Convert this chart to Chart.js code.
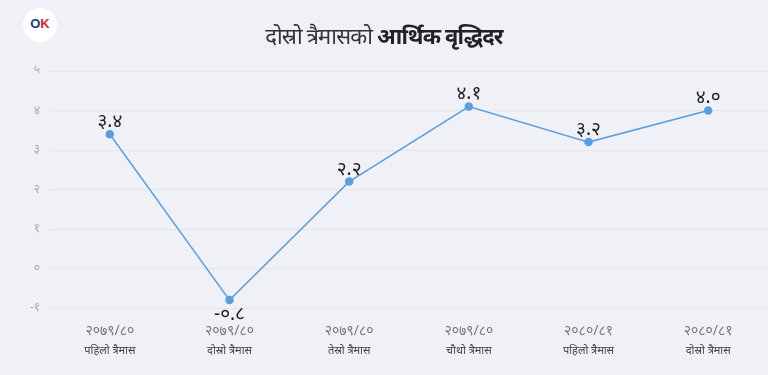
<!DOCTYPE html>
<html><head><meta charset="utf-8">
<script src="https://cdn.jsdelivr.net/npm/chart.js@4"></script>
<style>
html,body{margin:0;padding:0;background:#f0f1f6;}
#wrap{position:relative;width:768px;height:375px;overflow:hidden;}
#title{position:absolute;left:0;top:20px;width:768px;text-align:center;font-family:"Noto Sans",sans-serif;font-size:22px;color:#333;letter-spacing:-0.8px;}
#title b{font-weight:700;color:#222;}
#logo{position:absolute;left:23px;top:8px;width:34px;height:34px;border-radius:50%;background:#fff;font-family:"Liberation Sans",sans-serif;font-weight:900;font-size:13px;line-height:32px;text-align:center;}
#logo .o{color:#1a3d8f}#logo .k{color:#e0262b}
canvas{position:absolute;left:0;top:0;}
</style></head><body>
<div id="wrap">
<canvas id="c" width="768" height="375"></canvas>
<div id="logo"><span class="o">O</span><span class="k">K</span></div>
<div id="title">दोस्रो त्रैमासको <b>आर्थिक वृद्धिदर</b></div>
</div>
<script>
const years = ['२०७९/८०','२०७९/८०','२०७९/८०','२०७९/८०','२०८०/८१','२०८०/८१'];
const quarters = ['पहिलो त्रैमास','दोस्रो त्रैमास','तेस्रो त्रैमास','चौथो त्रैमास','पहिलो त्रैमास','दोस्रो त्रैमास'];
const growth = [3.4, -0.8, 2.2, 4.1, 3.2, 4.0];
const yMin = -1, yMax = 5, yStep = 1;

const devDigits = '०१२३४५६७८९';
function toDev(s){return String(s).replace(/[0-9]/g,d=>devDigits[+d]);}

const valueLabels = {
  id:'valueLabels',
  afterDatasetsDraw(chart){
    const ctx = chart.ctx;
    const meta = chart.getDatasetMeta(0);
    ctx.save();
    ctx.font = '19px "Noto Sans", sans-serif';
    ctx.fillStyle = '#222';
    ctx.textAlign = 'center';
    meta.data.forEach((pt,i)=>{
      const v = growth[i];
      const txt = toDev(v.toFixed(1));
      if (v < 0){ ctx.textBaseline='top'; ctx.fillText(txt, pt.x, pt.y+5); }
      else { ctx.textBaseline='bottom'; ctx.fillText(txt, pt.x, pt.y-3); }
    });
    ctx.restore();
  }
};

const quarterLabels = {
  id:'quarterLabels',
  afterDraw(chart){
    const ctx = chart.ctx;
    const xs = chart.scales.x;
    ctx.save();
    ctx.textAlign='center';
    ctx.textBaseline='middle';
    years.forEach((y,i)=>{
      const x = xs.getPixelForValue(i);
      ctx.font = '14px "Noto Sans", sans-serif';
      ctx.fillStyle = '#777';
      ctx.fillText(y, x, chart.chartArea.bottom + 23);
      ctx.font = '11px "Noto Sans", sans-serif';
      ctx.fillStyle = '#444';
      ctx.fillText(quarters[i], x, chart.chartArea.bottom + 43);
    });
    ctx.restore();
  }
};

new Chart(document.getElementById('c'), {
  type:'line',
  data:{
    labels: years.map((y,i)=>y+' '+quarters[i]),
    datasets:[{
      data: growth,
      borderColor:'#5b9ee0',
      backgroundColor:'#5b9ee0',
      borderWidth:1.5,
      pointRadius:3.5,
      pointHoverRadius:3.5,
      tension:0
    }]
  },
  options:{
    responsive:false,
    animation:false,
    plugins:{legend:{display:false},tooltip:{enabled:false}},
    layout:{autoPadding:false,padding:{top:71,right:-2,bottom:0,left:0}},
    scales:{
      x:{
        offset:true,
        grid:{display:false},
        border:{display:false},
        ticks:{display:false},
        afterFit(s){ s.height = 67; }
      },
      y:{
        min:yMin,max:yMax,
        ticks:{stepSize:yStep,color:'#aaa',font:{size:12,family:'"Noto Sans", sans-serif'},padding:10,
          callback:v=>toDev(v)},
        grid:{color:'#e3e5ea',lineWidth:1,drawTicks:false},
        border:{display:false},
        afterFit(s){ s.width = 50; }
      }
    }
  },
  plugins:[valueLabels, quarterLabels]
});
</script>
</body></html>
